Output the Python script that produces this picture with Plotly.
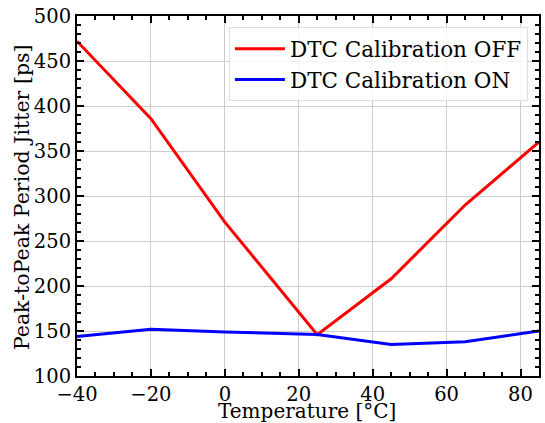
import plotly.graph_objects as go

temperature = [-40, -20, 0, 25, 45, 65, 85]
jitter_off = [472, 386, 271, 146, 208, 290, 360]
jitter_on = [144, 152, 149, 146, 135, 138, 150]

FONT = "DejaVu Serif"

fig = go.Figure()
fig.add_trace(go.Scatter(x=temperature, y=jitter_off, mode="lines",
                         name="DTC Calibration OFF",
                         line=dict(color="#ff0000", width=3)))
fig.add_trace(go.Scatter(x=temperature, y=jitter_on, mode="lines",
                         name="DTC Calibration ON",
                         line=dict(color="#0000ff", width=3)))

axis_common = dict(
    showline=True, linecolor="black", linewidth=2, mirror="allticks",
    ticks="inside", ticklen=7, tickwidth=1.5, tickcolor="black",
    showgrid=True, gridcolor="#cccccc", gridwidth=1,
    zeroline=False, automargin=False,
    tickfont=dict(family=FONT, size=19.5, color="black"),
)

fig.update_xaxes(
    range=[-40, 85], dtick=20, tick0=0,
    minor=dict(ticks="inside", ticklen=4, dtick=5, tick0=0, tickcolor="black",
               showgrid=False),
    **axis_common,
)
fig.update_yaxes(
    range=[100, 500], dtick=50,
    minor=dict(ticks="inside", ticklen=4, dtick=10, tick0=0, tickcolor="black",
               showgrid=False),
    **axis_common,
)

# axis titles placed as annotations for exact positioning
fig.add_annotation(text="Temperature [°C]", xref="paper", yref="paper",
                   x=0.497, y=-0.097, xanchor="center", yanchor="middle",
                   borderpad=0, showarrow=False,
                   font=dict(family=FONT, size=20, color="black"))
fig.add_annotation(text="Peak-toPeak Period Jitter [ps]", xref="paper", yref="paper",
                   x=-0.119, y=0.497, xanchor="center", yanchor="middle",
                   textangle=-90, borderpad=0, showarrow=False,
                   font=dict(family=FONT, size=20.5, color="black"))

fig.update_layout(
    width=545, height=423,
    margin=dict(l=77, r=6, t=16, b=47),
    plot_bgcolor="white", paper_bgcolor="white",
    font=dict(family=FONT, color="black"),
    legend=dict(x=0.976, y=0.969, xanchor="right", yanchor="top",
                bgcolor="rgba(255,255,255,0.8)", bordercolor="#dddddd",
                borderwidth=1, itemwidth=50,
                font=dict(family=FONT, size=21.5, color="black")),
)

fig.write_html("out.html")
